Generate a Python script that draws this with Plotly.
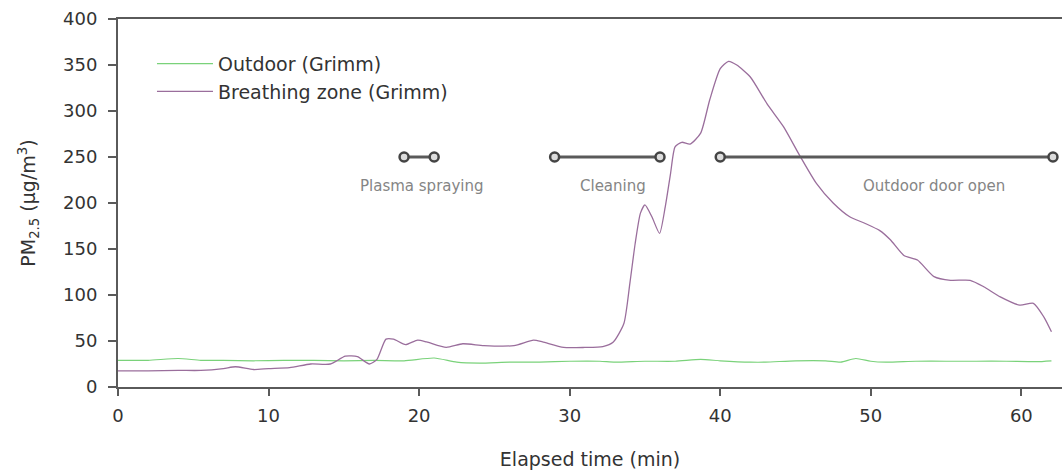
import plotly.graph_objects as go

# ---- data ----
t_breath = [0, 2, 4, 5.5, 7, 7.8, 9, 10, 11.4, 12.8, 14.1, 15.1, 15.9, 16.7, 17.2, 17.8,
            18.3, 19.1, 19.9, 20.5, 21.8, 22.9, 24.3, 26.3, 27.6, 28.2, 29.6, 31, 32.2,
            32.9, 33.6, 34.0, 34.35, 34.7, 35.0, 35.46, 35.97, 36.35, 36.7, 37.0, 37.45,
            38.0, 38.7, 39.3, 40.0, 40.55, 41.1, 42.0, 43.1, 44.2, 45.3, 46.4, 47.5, 48.6,
            49.6, 50.6, 51.3, 52.2, 53.1, 54.2, 55.3, 56.6, 57.5, 58.6, 59.9, 60.8, 61.5, 62.0]
pm_breath = [17.5, 17.5, 18, 18, 20, 22, 19, 20, 21, 25, 25, 33.5, 33, 25, 30, 52,
             52, 46, 51, 49, 43, 47, 45, 45, 51, 49, 43, 43, 44,
             49, 69, 113, 156, 189, 198, 185, 167, 196, 232, 261, 266,
             264, 276, 312, 346, 354, 350, 337, 308, 283, 251, 221, 200, 185,
             178, 170, 160, 143, 138, 120, 116, 116, 109, 98, 89, 91, 76, 60]

t_out = [0, 2, 4, 5.5, 7, 9, 11, 13, 15, 17, 19, 21, 22.5, 24, 26, 28, 30, 32, 33, 35,
         37, 38.7, 40, 42, 43, 45, 47, 48, 49, 50, 51, 53, 55, 57, 59, 61, 62]
pm_out = [29, 29, 31, 29, 29, 28.5, 29, 29, 28.5, 29, 28.5, 31.5, 27, 26, 27, 27, 28, 28, 27, 28,
          28, 30, 28.5, 27, 27, 28.5, 28.5, 27, 31, 28, 27, 28, 28, 28, 28, 27.5, 28.5]

event_names = ["Plasma spraying", "Cleaning", "Outdoor door open"]
event_start = [19, 29, 40]
event_end = [21, 36, 62.1]
event_level = 250

x_ticks = [0, 10, 20, 30, 40, 50, 60]
y_ticks = [0, 50, 100, 150, 200, 250, 300, 350, 400]

# ---- style ----
FONT = "DejaVu Sans"
AXIS = "#5a5a5a"
GREEN = "#7ad27a"
PURPLE = "#9a6e9c"
TXT = "#333333"

fig = go.Figure()

fig.add_trace(go.Scatter(x=t_out, y=pm_out, mode="lines", name="Outdoor (Grimm)",
                         line=dict(color=GREEN, width=1.2, shape="spline", smoothing=0.6)))
fig.add_trace(go.Scatter(x=t_breath, y=pm_breath, mode="lines", name="Breathing zone (Grimm)",
                         line=dict(color=PURPLE, width=1.3, shape="spline", smoothing=0.6)))

label_x = [20.2, 32.9, 54.2]
for name, s, e, lx in zip(event_names, event_start, event_end, label_x):
    fig.add_trace(go.Scatter(x=[s, e], y=[event_level, event_level], mode="lines+markers",
                             showlegend=False, hoverinfo="skip",
                             line=dict(color="#5a5a5a", width=3),
                             marker=dict(symbol="circle", size=9, color="#dddddd",
                                         line=dict(color="#444444", width=2.5))))
    fig.add_annotation(x=lx, y=event_level, yshift=-29, text=name, showarrow=False,
                       font=dict(family=FONT, size=15, color="#858585"))

fig.update_layout(
    width=1062, height=475,
    margin=dict(l=118, r=0, t=19, b=88),
    paper_bgcolor="white", plot_bgcolor="white",
    font=dict(family=FONT, size=19, color=TXT),
    legend=dict(x=0.036, y=0.93, xanchor="left", yanchor="top",
                bgcolor="rgba(0,0,0,0)", font=dict(family=FONT, size=19, color=TXT),
                itemwidth=56, tracegroupgap=0),
    xaxis=dict(range=[0, 62.7], tickvals=x_ticks, showgrid=False, zeroline=False,
               showline=True, linecolor=AXIS, linewidth=2, mirror=True,
               ticks="outside", ticklen=7, tickwidth=1.5, tickcolor=AXIS,
               ticklabelstandoff=4,
               tickfont=dict(family=FONT, size=18, color=TXT),
               title=dict(text="Elapsed time (min)", standoff=28,
                          font=dict(family=FONT, size=19, color=TXT))),
    yaxis=dict(range=[0, 400], tickvals=y_ticks, showgrid=False, zeroline=False,
               showline=True, linecolor=AXIS, linewidth=2,
               ticks="outside", ticklen=8, tickwidth=1.5, tickcolor=AXIS,
               ticklabelstandoff=7,
               tickfont=dict(family=FONT, size=18, color=TXT),
               title=dict(text="PM<sub>2.5</sub> (µg/m<sup>3</sup>)", standoff=22,
                          font=dict(family=FONT, size=19, color=TXT))),
)

fig.write_html("out.html")
